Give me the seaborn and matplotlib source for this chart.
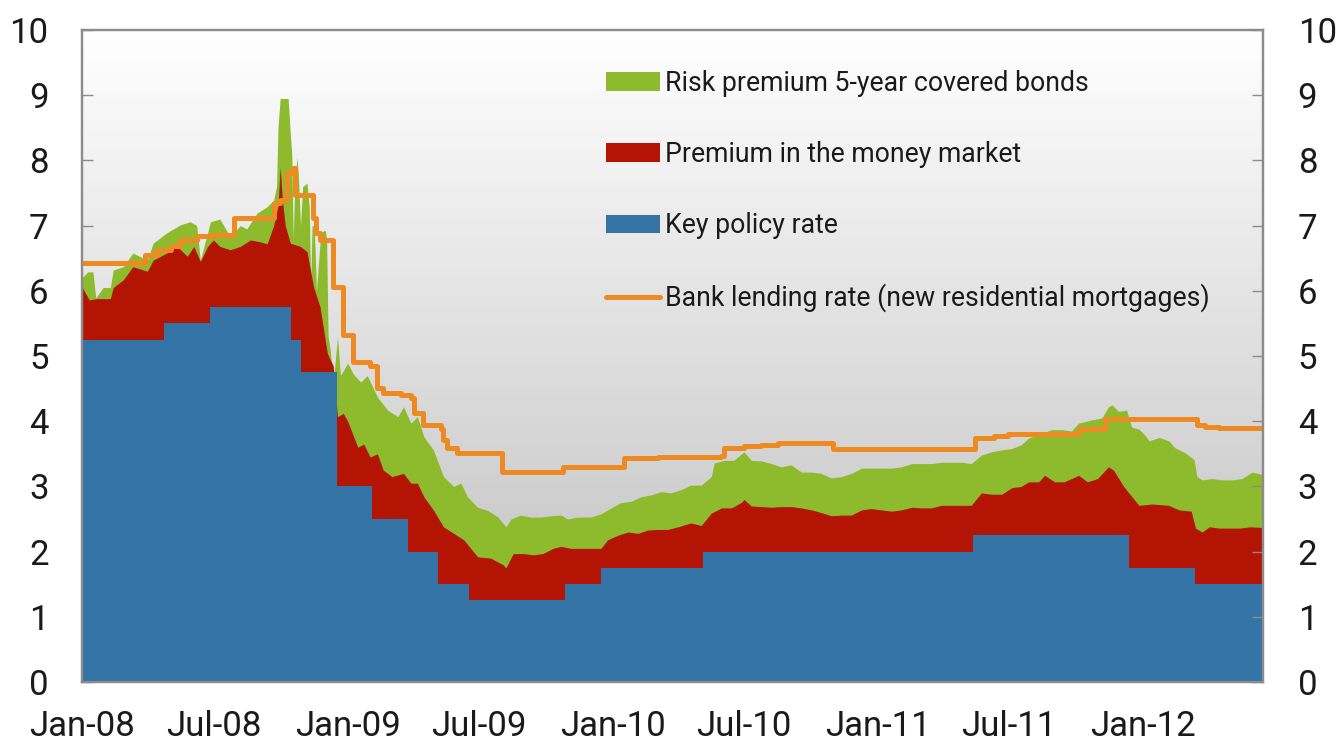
import numpy as np
import pandas as pd
import matplotlib
matplotlib.use('Agg')
import matplotlib.pyplot as plt
import matplotlib.dates as mdates
from matplotlib.colors import LinearSegmentedColormap
from matplotlib.patches import Patch
from matplotlib.lines import Line2D
import seaborn as sns

# DATA (per cent)

# Key policy rate - changes at decision dates
key_dates = ['2008-01-01', '2008-04-23', '2008-06-25', '2008-10-15', '2008-10-29',
             '2008-12-17', '2009-02-04', '2009-03-25', '2009-05-06', '2009-06-17',
             '2009-10-28', '2009-12-16', '2010-05-05', '2011-05-12', '2011-12-14',
             '2012-03-14', '2012-06-15']
key_rate = [5.25, 5.5, 5.75, 5.25, 4.75,
            3.0, 2.5, 2.0, 1.5, 1.25,
            1.5, 1.75, 2.0, 2.25, 1.75,
            1.5, 1.5]

# key rate + money market premium (top of red area)
nibor_dates = ['2008-01-01', '2008-01-11', '2008-01-21', '2008-02-09', '2008-02-13', '2008-02-27',
               '2008-03-11', '2008-03-31', '2008-04-08', '2008-04-27', '2008-05-11', '2008-05-25',
               '2008-06-03', '2008-06-12', '2008-06-22', '2008-06-30', '2008-07-09', '2008-07-23',
               '2008-08-06', '2008-08-20', '2008-09-03', '2008-09-12', '2008-09-21', '2008-09-27',
               '2008-09-30', '2008-10-03', '2008-10-07', '2008-10-14', '2008-10-28', '2008-11-06',
               '2008-11-15', '2008-11-24', '2008-12-04', '2008-12-12', '2008-12-18', '2008-12-26',
               '2009-01-01', '2009-01-15', '2009-01-23', '2009-02-01', '2009-02-11', '2009-02-19',
               '2009-03-03', '2009-03-19', '2009-03-29', '2009-04-07', '2009-04-16', '2009-04-29',
               '2009-05-13', '2009-05-27', '2009-06-10', '2009-06-29', '2009-07-17', '2009-08-03',
               '2009-08-07', '2009-08-17', '2009-08-31', '2009-09-14', '2009-09-27', '2009-10-11',
               '2009-10-22', '2009-11-04', '2009-11-18', '2009-12-02', '2009-12-16', '2009-12-25',
               '2010-01-08', '2010-01-22', '2010-02-05', '2010-02-18', '2010-03-04', '2010-03-18',
               '2010-04-01', '2010-04-19', '2010-05-03', '2010-05-17', '2010-05-31', '2010-06-14',
               '2010-06-28', '2010-07-01', '2010-07-11', '2010-07-25', '2010-08-08', '2010-08-21',
               '2010-09-04', '2010-09-18', '2010-10-02', '2010-10-15', '2010-10-29', '2010-11-12',
               '2010-11-26', '2010-12-10', '2010-12-23', '2011-01-06', '2011-01-20', '2011-02-03',
               '2011-02-17', '2011-03-02', '2011-03-16', '2011-03-30', '2011-04-13', '2011-04-27',
               '2011-05-10', '2011-05-24', '2011-06-07', '2011-06-21', '2011-07-05', '2011-07-18',
               '2011-07-28', '2011-08-11', '2011-08-19', '2011-09-02', '2011-09-15', '2011-09-25',
               '2011-10-05', '2011-10-17', '2011-10-31', '2011-11-15', '2011-11-22', '2011-12-06',
               '2011-12-27', '2012-01-14', '2012-02-06', '2012-02-20', '2012-03-08', '2012-03-14',
               '2012-03-23', '2012-04-02', '2012-04-16', '2012-04-30', '2012-05-14', '2012-05-28',
               '2012-06-15']
nibor_level = [6.06, 5.86, 5.88, 5.88, 6.05, 6.17,
               6.37, 6.30, 6.47, 6.58, 6.68, 6.53,
               6.68, 6.45, 6.68, 6.78, 6.68, 6.63,
               6.68, 6.78, 6.75, 6.72, 7.00, 7.30,
               7.90, 7.40, 7.00, 6.73, 6.68, 6.60,
               6.06, 5.75, 5.04, 4.85, 4.07, 4.12,
               4.00, 3.60, 3.65, 3.45, 3.50, 3.25,
               3.15, 3.20, 3.05, 3.05, 2.84, 2.64,
               2.38, 2.28, 2.18, 1.92, 1.90, 1.80,
               1.75, 1.97, 1.97, 1.95, 1.97, 2.05,
               2.08, 2.05, 2.05, 2.05, 2.05, 2.18,
               2.25, 2.30, 2.28, 2.33, 2.34, 2.34,
               2.38, 2.44, 2.40, 2.59, 2.67, 2.67,
               2.76, 2.80, 2.70, 2.69, 2.68, 2.69,
               2.69, 2.67, 2.64, 2.60, 2.55, 2.56,
               2.56, 2.64, 2.66, 2.64, 2.62, 2.64,
               2.68, 2.67, 2.67, 2.71, 2.71, 2.71,
               2.71, 2.90, 2.88, 2.88, 2.98, 3.00,
               3.07, 3.07, 3.17, 3.07, 3.07, 3.12,
               3.17, 3.07, 3.12, 3.30, 3.25, 3.00,
               2.71, 2.73, 2.71, 2.64, 2.62, 2.36,
               2.30, 2.38, 2.36, 2.36, 2.36, 2.38,
               2.37]

# key rate + money market premium + covered bond premium (top of green area)
bond_dates = ['2008-01-01', '2008-01-09', '2008-01-16', '2008-01-20', '2008-01-30', '2008-02-09',
              '2008-02-13', '2008-02-27', '2008-03-11', '2008-03-31', '2008-04-08', '2008-04-27',
              '2008-05-15', '2008-05-29', '2008-06-07', '2008-06-12', '2008-06-26', '2008-07-09',
              '2008-07-23', '2008-08-06', '2008-08-15', '2008-08-29', '2008-09-12', '2008-09-21',
              '2008-09-25', '2008-09-27', '2008-09-30', '2008-10-11', '2008-10-14', '2008-10-16',
              '2008-10-18', '2008-10-20', '2008-10-23', '2008-10-25', '2008-10-28', '2008-10-31',
              '2008-11-06', '2008-11-09', '2008-11-11', '2008-11-13', '2008-11-16', '2008-11-19',
              '2008-11-21', '2008-11-25', '2008-12-01', '2008-12-03', '2008-12-05', '2008-12-08',
              '2008-12-12', '2008-12-18', '2008-12-22', '2009-01-01', '2009-01-09', '2009-01-19',
              '2009-01-28', '2009-02-11', '2009-02-25', '2009-03-11', '2009-03-19', '2009-03-29',
              '2009-04-07', '2009-04-16', '2009-04-29', '2009-05-13', '2009-05-27', '2009-06-06',
              '2009-06-15', '2009-06-29', '2009-07-13', '2009-07-27', '2009-08-07', '2009-08-14',
              '2009-08-27', '2009-09-10', '2009-09-24', '2009-10-08', '2009-10-22', '2009-10-31',
              '2009-11-14', '2009-12-02', '2009-12-16', '2009-12-30', '2010-01-12', '2010-01-26',
              '2010-02-09', '2010-02-23', '2010-03-09', '2010-03-22', '2010-04-05', '2010-04-19',
              '2010-05-03', '2010-05-17', '2010-05-21', '2010-06-04', '2010-06-17', '2010-07-01',
              '2010-07-11', '2010-07-25', '2010-08-08', '2010-08-21', '2010-09-04', '2010-09-18',
              '2010-10-02', '2010-10-15', '2010-10-29', '2010-11-12', '2010-11-26', '2010-12-10',
              '2010-12-23', '2011-01-06', '2011-01-20', '2011-02-03', '2011-02-17', '2011-03-02',
              '2011-03-16', '2011-03-30', '2011-04-13', '2011-04-27', '2011-05-10', '2011-05-24',
              '2011-06-07', '2011-06-21', '2011-07-05', '2011-07-18', '2011-07-28', '2011-08-11',
              '2011-08-29', '2011-09-12', '2011-09-25', '2011-10-05', '2011-10-23', '2011-11-06',
              '2011-11-15', '2011-11-20', '2011-11-29', '2011-12-10', '2011-12-17', '2011-12-27',
              '2012-01-04', '2012-01-10', '2012-01-24', '2012-02-06', '2012-02-15', '2012-02-28',
              '2012-03-12', '2012-03-16', '2012-03-23', '2012-04-06', '2012-04-19', '2012-05-03',
              '2012-05-17', '2012-05-31', '2012-06-15']
bond_level = [6.20, 6.29, 6.29, 5.89, 6.05, 6.05,
              6.32, 6.37, 6.58, 6.47, 6.73, 6.89,
              7.01, 7.06, 7.00, 6.47, 7.06, 7.10,
              6.83, 7.00, 6.95, 7.19, 7.29, 7.39,
              7.60, 8.50, 8.95, 8.95, 8.40, 8.10,
              6.80, 7.60, 8.05, 7.80, 7.00, 7.60,
              7.65, 7.30, 6.12, 7.00, 7.00, 6.00,
              6.30, 6.90, 6.93, 6.80, 5.30, 5.09,
              4.58, 5.29, 4.70, 4.89, 4.72, 4.60,
              4.70, 4.37, 4.17, 4.07, 4.22, 3.97,
              4.07, 3.76, 3.56, 3.15, 3.00, 3.05,
              2.84, 2.68, 2.63, 2.53, 2.38, 2.50,
              2.56, 2.53, 2.53, 2.55, 2.56, 2.50,
              2.53, 2.53, 2.58, 2.67, 2.75, 2.77,
              2.84, 2.87, 2.92, 2.90, 2.95, 3.02,
              3.02, 3.15, 3.36, 3.40, 3.40, 3.53,
              3.40, 3.39, 3.35, 3.30, 3.33, 3.22,
              3.22, 3.20, 3.13, 3.15, 3.20, 3.28,
              3.28, 3.28, 3.28, 3.30, 3.35, 3.35,
              3.35, 3.37, 3.37, 3.37, 3.35, 3.48,
              3.53, 3.56, 3.58, 3.64, 3.74, 3.80,
              3.87, 3.87, 3.85, 3.97, 4.02, 4.05,
              4.22, 4.25, 4.15, 4.17, 3.91, 3.88,
              3.79, 3.70, 3.75, 3.70, 3.59, 3.52,
              3.41, 3.15, 3.10, 3.12, 3.10, 3.10,
              3.12, 3.22, 3.18]

# Bank lending rate, new residential mortgages (value holds from each date)
lending_dates = ['2008-01-01', '2008-03-28', '2008-04-13', '2008-05-02', '2008-05-15', '2008-06-07',
                 '2008-06-30', '2008-07-28', '2008-09-22', '2008-09-30', '2008-10-10', '2008-10-17',
                 '2008-10-21', '2008-11-14', '2008-11-18', '2008-11-24', '2008-12-12', '2008-12-25',
                 '2009-01-09', '2009-02-01', '2009-02-11', '2009-02-19', '2009-03-15', '2009-03-29',
                 '2009-04-02', '2009-04-15', '2009-05-09', '2009-05-13', '2009-05-18', '2009-06-01',
                 '2009-08-01', '2009-10-24', '2010-01-17', '2010-03-04', '2010-05-31', '2010-06-04',
                 '2010-07-01', '2010-07-25', '2010-08-17', '2010-11-01', '2011-05-15', '2011-06-10',
                 '2011-06-30', '2011-10-05', '2011-11-10', '2012-03-16', '2012-03-27', '2012-04-16',
                 '2012-06-15']
lending_rate = [6.42, 6.55, 6.62, 6.68, 6.78, 6.84,
                6.86, 7.12, 7.35, 7.40, 7.80, 7.88,
                7.47, 7.12, 6.88, 6.78, 6.06, 5.32,
                4.91, 4.85, 4.51, 4.43, 4.40, 4.35,
                4.13, 3.94, 3.88, 3.71, 3.59, 3.51,
                3.22, 3.30, 3.43, 3.45, 3.47, 3.59,
                3.62, 3.64, 3.67, 3.57, 3.74, 3.77,
                3.80, 3.88, 4.03, 3.94, 3.91, 3.90,
                3.90]

legend_labels = ['Risk premium 5-year covered bonds',
                 'Premium in the money market',
                 'Key policy rate',
                 'Bank lending rate (new residential mortgages)']

BLUE = '#3473a6'
RED = '#b41404'
GREEN = '#8ebb2d'
ORANGE = '#ee8a22'
SPINE = '#8c8c8c'
TEXT = '#1a1a1a'

X_START = pd.Timestamp('2008-01-01')
X_END = pd.Timestamp('2012-06-15')

sns.set_theme(style='white')
plt.rcParams['font.family'] = ['Roboto', 'DejaVu Sans']

key_df = pd.DataFrame({'date': pd.to_datetime(key_dates), 'rate': key_rate})
nibor_df = pd.DataFrame({'date': pd.to_datetime(nibor_dates), 'rate': nibor_level})
bond_df = pd.DataFrame({'date': pd.to_datetime(bond_dates), 'rate': bond_level})
lend_df = pd.DataFrame({'date': pd.to_datetime(lending_dates), 'rate': lending_rate})

fig = plt.figure(figsize=(13.37, 7.44), dpi=100)
ax = fig.add_axes([82 / 1337, 1 - 682 / 744, (1263 - 82) / 1337, (682 - 30) / 744])

# grey-to-white background gradient
grad_cmap = LinearSegmentedColormap.from_list('bg', ['#bdbdbd', '#ffffff'])
ax.imshow(np.linspace(0, 1, 256).reshape(-1, 1), cmap=grad_cmap, origin='lower', aspect='auto',
          extent=[mdates.date2num(X_START), mdates.date2num(X_END), 0, 10], zorder=0)

# stacked look: draw totals first, lower layers on top
ax.fill_between(bond_df['date'], 0, bond_df['rate'], color=GREEN, lw=0, zorder=1)
ax.fill_between(nibor_df['date'], 0, nibor_df['rate'], color=RED, lw=0, zorder=2)
ax.fill_between(key_df['date'], 0, key_df['rate'], step='post', color=BLUE, lw=0, zorder=3)

sns.lineplot(data=lend_df, x='date', y='rate', drawstyle='steps-post', color=ORANGE,
             lw=3.6, ax=ax, zorder=4)

ax.set_xlim(X_START, X_END)
ax.set_ylim(0, 10)
ax.set_xlabel('')
ax.set_ylabel('')

ax.xaxis.set_major_locator(mdates.MonthLocator(bymonth=[1, 7]))
ax.xaxis.set_major_formatter(mdates.DateFormatter('%b-%y'))
ax.set_yticks(range(0, 11))

ax.tick_params(axis='x', direction='in', length=8, width=1, color=SPINE, pad=20,
               labelsize=25, labelcolor=TEXT, bottom=True)
ax.tick_params(axis='y', direction='in', length=8, width=1, color=SPINE, pad=24,
               labelsize=25, labelcolor=TEXT, left=True)

ax2 = ax.twinx()
ax2.set_ylim(0, 10)
ax2.set_yticks(range(0, 11))
ax2.tick_params(axis='y', direction='in', length=8, width=1, color=SPINE, pad=25,
                labelsize=25, labelcolor=TEXT, right=True)

for a in (ax, ax2):
    for side in a.spines.values():
        side.set_color(SPINE)
        side.set_linewidth(1.6)
        side.set_visible(True)
    a.grid(False)

handles = [Patch(facecolor=GREEN, edgecolor='none'),
           Patch(facecolor=RED, edgecolor='none'),
           Patch(facecolor=BLUE, edgecolor='none'),
           Line2D([], [], color=ORANGE, lw=3.6)]
leg = ax2.legend(handles, legend_labels, loc='upper left', bbox_to_anchor=(0.444, 0.939),
                 frameon=False, fontsize=19.2, handlelength=2.0, handleheight=0.7,
                 handletextpad=0.2, labelspacing=1.66, borderaxespad=0, borderpad=0,
                 labelcolor=TEXT)

fig.savefig('out.png', dpi=100)
